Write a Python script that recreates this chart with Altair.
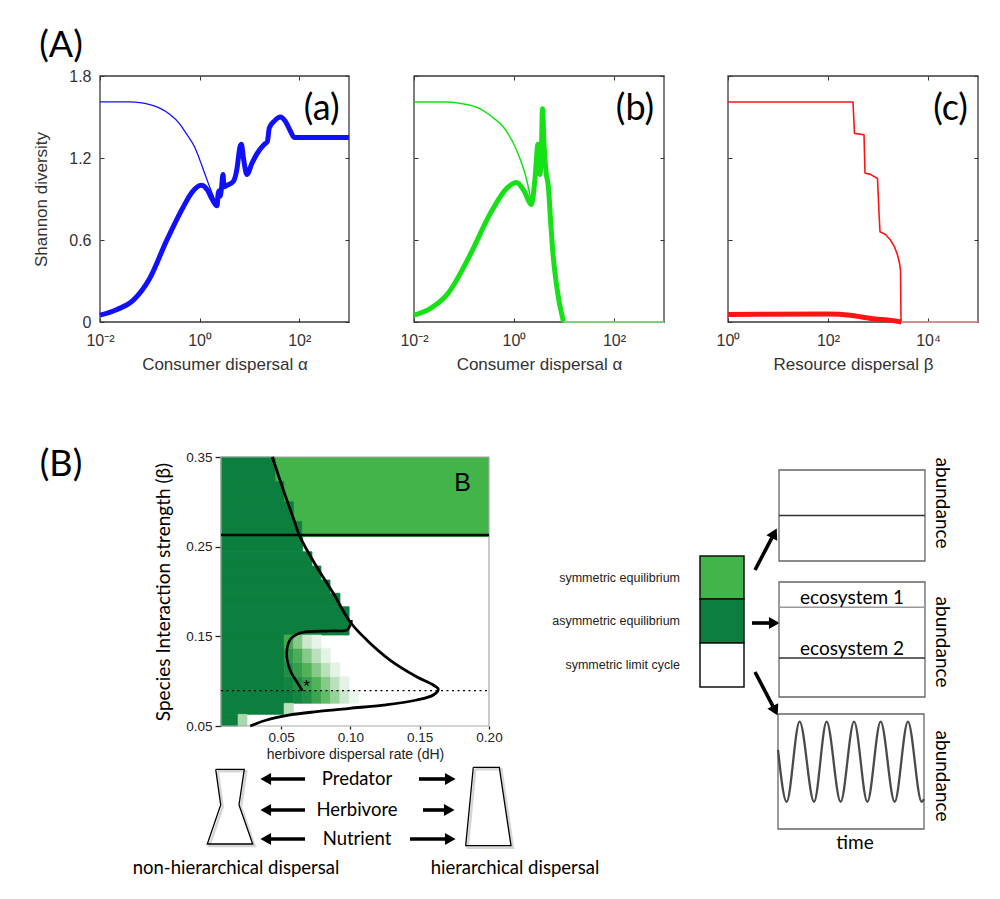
import math
import altair as alt
import pandas as pd

W, H = 984, 880
OX, OY = 8, 8
SANS = "Liberation Sans"
CAL = "Lato"


def px(v):
    return v - OX


def py(v):
    return v - OY


# ---------------- (A) data : exponent of dispersal, Shannon diversity ----------------
a_thin_e = [-2, -1.4, -1.2, -1.0, -0.8, -0.6, -0.4, -0.27, -0.1, 0.0, 0.1, 0.2, 0.3, 0.35]
a_thin_v = [1.61, 1.61, 1.605, 1.59, 1.565, 1.52, 1.45, 1.38, 1.28, 1.19, 1.09, 0.99, 0.9, 0.86]
a_thick_e = [-2, -1.67, -1.33, -1.0, -0.67, -0.33, -0.15, 0.03, 0.15, 0.25,
             0.35, 0.37, 0.39, 0.41, 0.44, 0.47, 0.49, 0.55, 0.68, 0.75,
             0.81, 0.84, 0.88, 0.95, 1.05, 1.15, 1.3, 1.36, 1.40, 1.5,
             1.62, 1.72, 1.82, 1.9, 3.0]
a_thick_v = [0.05, 0.09, 0.16, 0.32, 0.59, 0.84, 0.95, 1.0, 0.97, 0.9,
             0.85, 0.93, 0.96, 0.92, 0.98, 1.08, 0.99, 1.0, 1.03, 1.12,
             1.28, 1.3, 1.2, 1.08, 1.16, 1.23, 1.3, 1.32, 1.42, 1.47,
             1.5, 1.47, 1.4, 1.35, 1.35]

b_thin_e = [-2, -1.34, -1.0, -0.68, -0.4, -0.22, 0.06, 0.26, 0.35]
b_thin_v = [1.61, 1.61, 1.595, 1.56, 1.49, 1.43, 1.25, 1.03, 0.87]
b_thick_e = [-2, -1.67, -1.34, -0.88, -0.48, -0.14, 0.05, 0.2, 0.35, 0.42, 0.48,
             0.5, 0.52, 0.55, 0.57, 0.6, 0.64, 0.69, 0.73, 0.77, 0.85, 0.99]
b_thick_v = [0.05, 0.1, 0.2, 0.49, 0.79, 0.98, 1.02, 0.96, 0.86, 1.05, 1.3,
             1.15, 1.08, 1.3, 1.56, 1.3, 1.1, 0.98, 0.75, 0.54, 0.27, 0.0]
b_zero_e = [0.99, 3.0]
b_zero_v = [0.0, 0.0]

c_thin_e = [0, 2.5, 2.53, 2.72, 2.74, 2.85, 2.99, 3.02, 3.04, 3.15, 3.25, 3.33, 3.39, 3.43, 3.45, 3.46]
c_thin_v = [1.61, 1.61, 1.38, 1.37, 1.09, 1.08, 1.05, 0.8, 0.66, 0.64, 0.6, 0.55, 0.49, 0.43, 0.38, 0.0]
c_thick_e = [0, 2.0, 2.45, 2.7, 3.0, 3.3, 3.47]
c_thick_v = [0.055, 0.058, 0.05, 0.035, 0.02, 0.01, 0.0]
c_zero_e = [3.46, 5.0]
c_zero_v = [0.0, 0.0]

y_ticks = [0, 0.6, 1.2, 1.8]
a_ticks = [0.01, 1, 100]
a_tick_labels = ["10⁻²", "10⁰", "10²"]
c_ticks = [1, 100, 10000]
c_tick_labels = ["10⁰", "10²", "10⁴"]

# ---------------- (B) heat map data ----------------
h_xdom = [0.0067, 0.2]
h_ydom = [0.05, 0.35]
band_y = [0.2607, 0.35]
dark_y0 = [0.3225, 0.300, 0.2778, 0.2607, 0.2443, 0.2284, 0.2128, 0.198, 0.183, 0.1515, 0.063, 0.05]
dark_y1 = [0.35, 0.3225, 0.300, 0.2778, 0.2607, 0.2443, 0.2284, 0.2128, 0.198, 0.183, 0.1515, 0.063]
dark_xr = [0.0457, 0.052, 0.0589, 0.0649, 0.0656, 0.0723, 0.0788, 0.0853, 0.0925, 0.0991, 0.0522, 0.019]
fade_col_edges = [0.0522, 0.0589, 0.0656, 0.0723, 0.0790, 0.0857, 0.0924, 0.0991, 0.1058]
fade_row_edges = [0.0753, 0.0901, 0.105, 0.1206, 0.1367, 0.1515]
fade_levels = [
    [1.0, 0.95, 0.85, 0.65, 0.45, 0.3, 0.15, 0.06],
    [0.95, 0.85, 0.7, 0.5, 0.35, 0.2, 0.08],
    [0.85, 0.7, 0.5, 0.35, 0.2, 0.08],
    [0.75, 0.55, 0.35, 0.2, 0.08],
    [0.6, 0.35, 0.15, 0.07],
]
extra_x0 = [0.0522, 0.019]
extra_x1 = [0.0589, 0.0255]
extra_y0 = [0.063, 0.05]
extra_y1 = [0.0753, 0.063]
extra_lv = [0.2, 0.25]

outer_x = [0.0437, 0.0517, 0.0589, 0.0637, 0.0757, 0.0877, 0.0997, 0.1118, 0.1286, 0.1478,
           0.1598, 0.1634, 0.1598, 0.148, 0.124, 0.0997, 0.0757, 0.0565, 0.0397, 0.0277]
outer_y = [0.35, 0.313, 0.2816, 0.261, 0.2276, 0.198, 0.1663, 0.146, 0.1236, 0.105,
           0.0957, 0.091, 0.0846, 0.079, 0.0734, 0.0697, 0.066, 0.0623, 0.0567, 0.05]
inner_x = [0.101, 0.0995, 0.0975, 0.085, 0.0637, 0.0565, 0.0541, 0.0565, 0.0613, 0.0654]
inner_y = [0.168, 0.161, 0.157, 0.156, 0.1537, 0.146, 0.131, 0.1125, 0.0994, 0.0894]
hline_y = 0.263
dotted_y = 0.0894
star_xy = (0.0685, 0.094)
b_tag_xy = (0.181, 0.321)

heat_x_ticks = [0.05, 0.10, 0.15, 0.20]
heat_y_ticks = [0.05, 0.15, 0.25, 0.35]

DARK = "#0c7f3e"
LIGHT = "#43b449"
MID = "#52b257"

# ---------------- legend / schematic (page coordinates) ----------------
legend_names = ["symmetric equilibrium", "asymmetric equilibrium", "symmetric limit cycle"]
legend_colors = [LIGHT, DARK, "#ffffff"]
legend_y0 = [556, 599, 643]
legend_y1 = [599, 643, 687]
legend_x = (700, 744)
legend_label_x = 680

arr_x0 = [755, 752, 755, 305, 305, 305, 419, 423, 410]
arr_y0 = [570, 623, 672, 779, 810, 839, 779, 810, 839]
arr_x1 = [776, 778, 777, 262, 262, 262, 454, 453, 454]
arr_y1 = [530, 623, 714, 779, 810, 839, 779, 810, 839]

nonhier_x = [215.7, 244.3, 239.0, 252.7, 207.3, 220.7, 215.7]
nonhier_y = [769.3, 769.3, 805.0, 844.0, 844.0, 805.0, 769.3]
hier_x = [473.3, 499.3, 511.0, 465.7, 473.3]
hier_y = [767.3, 767.3, 845.7, 845.7, 767.3]

flow_labels = ["Predator", "Herbivore", "Nutrient"]
flow_y = [779, 810, 839]
flow_x = 357
disp_labels = ["non-hierarchical dispersal", "hierarchical dispersal"]
disp_x = [236, 515]
disp_y = 868

# abundance panels: (left, right, top, bottom) page px
abund_boxes = [(779, 925, 470, 561), (779, 925, 582, 697), (778, 924, 714, 829)]
p1_level = [0.5]
p2_levels = [0.78, 0.34]
p2_colors = ["#9a9a9a", "#333333"]
p2_texts = ["ecosystem 1", "ecosystem 2"]
sine_t = [0, 0.059, 0.148, 0.247, 0.333, 0.429, 0.521, 0.612, 0.703, 0.799, 0.890, 0.984, 1.0]
sine_v = [0.687, 0.237, 0.933, 0.237, 0.933, 0.237, 0.933, 0.237, 0.933, 0.237, 0.933, 0.237, 0.26]
abund_label_y = [503, 642, 776]
abund_label_x = 942


# ---------------- helpers ----------------
def lin(dom, rng):
    return alt.Scale(domain=dom, range=rng, nice=False, zero=False)


def logs(dom, rng):
    return alt.Scale(type="log", domain=dom, range=rng, nice=False)


def tick_expr(vals, labs):
    expr = f"'{labs[-1]}'"
    for v, lab in reversed(list(zip(vals[:-1], labs[:-1]))):
        expr = f"datum.value < {v * 3} ? '{lab}' : " + expr
    return expr


def tick_axis(orient, offset, values):
    return alt.Axis(orient=orient, offset=offset, values=values, labels=False, domain=False,
                    tickSize=4, tickColor="#333", tickWidth=1, title=None, grid=False)


layers = []


def top_panel(P, xdom, xt, xl, xtitle, show_y, series, tag, tag_xy):
    l, r, t, b = P
    xs = logs(xdom, [px(l), px(r)])
    ys = lin([0, 1.8], [py(b), py(t)])
    frame = pd.DataFrame({"x": [xdom[0]], "x2": [xdom[1]], "y": [0.0], "y2": [1.8]})
    xax = alt.Axis(orient="bottom", offset=py(b) - H, values=xt, labelExpr=tick_expr(xt, xl),
                   tickSize=0, domain=False, labelFont=SANS, labelFontSize=16, labelColor="#333",
                   labelPadding=10, labelFlush=False, labelOverlap=False, title=xtitle,
                   titleFont=SANS, titleFontSize=17, titleFontWeight="normal", titleColor="#333",
                   titlePadding=8, grid=False)
    if show_y:
        yax = alt.Axis(orient="left", offset=-px(l), values=y_ticks,
                       labelExpr="datum.value == 0 ? '0' : format(datum.value, '.1f')",
                       tickSize=0, domain=False, labelFont=SANS, labelFontSize=16, labelColor="#333",
                       labelPadding=9, labelFlush=False, labelOverlap=False,
                       title="Shannon diversity", titleFont=SANS, titleFontSize=17,
                       titleFontWeight="normal", titleColor="#333", titlePadding=18, grid=False)
        layers.append(alt.Chart(frame).mark_rect(fillOpacity=0, stroke="#3a3a3a", strokeWidth=1.3).encode(
            x=alt.X("x:Q", scale=xs, axis=xax), x2="x2:Q",
            y=alt.Y("y:Q", scale=ys, axis=yax), y2="y2:Q"))
    else:
        layers.append(alt.Chart(frame).mark_rect(fillOpacity=0, stroke="#3a3a3a", strokeWidth=1.3).encode(
            x=alt.X("x:Q", scale=xs, axis=xax), x2="x2:Q",
            y=alt.Y("y:Q", scale=ys, axis=None), y2="y2:Q"))
    axes_pairs = [
        (tick_axis("top", -py(b), xt), tick_axis("right", px(l) - W, y_ticks)),
        (tick_axis("bottom", py(t) - H, xt), tick_axis("left", -px(r), y_ticks)),
    ]
    for k, (es, vs, color, width, opacity, interp) in enumerate(series):
        df = pd.DataFrame({"x": [10 ** e for e in es], "y": vs})
        if k < 2:
            ax, ay = axes_pairs[k]
            enc_x = alt.X("x:Q", scale=xs, axis=ax)
            enc_y = alt.Y("y:Q", scale=ys, axis=ay)
        else:
            enc_x = alt.X("x:Q", scale=xs, axis=None)
            enc_y = alt.Y("y:Q", scale=ys, axis=None)
        layers.append(alt.Chart(df).mark_line(color=color, strokeWidth=width, opacity=opacity,
                                              interpolate=interp, strokeJoin="round").encode(x=enc_x, y=enc_y))
    tdf = pd.DataFrame({"x": [10 ** tag_xy[0]], "y": [tag_xy[1]], "t": [tag]})
    layers.append(alt.Chart(tdf).mark_text(font=CAL, fontSize=36, align="center", baseline="middle",
                                           color="black").encode(
        x=alt.X("x:Q", scale=xs, axis=None), y=alt.Y("y:Q", scale=ys, axis=None), text="t:N"))


BLUE, GREEN, RED = "#1010ff", "#16e016", "#ff1414"
top_panel((100, 349, 76, 322), [0.01, 1000], a_ticks, a_tick_labels, "Consumer dispersal α", True,
          [(a_thin_e, a_thin_v, BLUE, 1.3, 1, "monotone"),
           (a_thick_e, a_thick_v, BLUE, 5, 1, "monotone")],
          "(a)", (2.45, 1.56))
top_panel((414, 664, 76, 322), [0.01, 1000], a_ticks, a_tick_labels, "Consumer dispersal α", False,
          [(b_thin_e, b_thin_v, GREEN, 1.5, 1, "monotone"),
           (b_thick_e, b_thick_v, GREEN, 5, 1, "monotone"),
           (b_zero_e, b_zero_v, "#8cf08c", 1.6, 1, "linear")],
          "(b)", (2.42, 1.56))
top_panel((728, 978, 76, 322), [1, 100000], c_ticks, c_tick_labels, "Resource dispersal β", False,
          [(c_thin_e, c_thin_v, RED, 1.6, 1, "linear"),
           (c_thick_e, c_thick_v, RED, 5, 1, "monotone"),
           (c_zero_e, c_zero_v, "#ff9a9a", 1.6, 1, "linear")],
          "(c)", (4.45, 1.56))

# ---------------- heat map ----------------
hx = lin(h_xdom, [px(221), px(489)])
hy = lin(h_ydom, [py(726), py(457)])


def HX(f="x"):
    return alt.X(f"{f}:Q", scale=hx, axis=None)


def HY(f="y"):
    return alt.Y(f"{f}:Q", scale=hy, axis=None)


band = pd.DataFrame({"x": [h_xdom[0]], "x2": [h_xdom[1]], "y": [band_y[0]], "y2": [band_y[1]]})
layers.append(alt.Chart(band).mark_rect(color=LIGHT).encode(x=HX(), x2="x2:Q", y=HY(), y2="y2:Q"))

dark = pd.DataFrame({"x": [h_xdom[0]] * len(dark_xr), "x2": dark_xr, "y": dark_y0, "y2": dark_y1})
layers.append(alt.Chart(dark).mark_rect(color=DARK, stroke=DARK, strokeWidth=0.8).encode(
    x=HX(), x2="x2:Q", y=HY(), y2="y2:Q"))

cells = []
for ri, row in enumerate(fade_levels):
    for ci, lv in enumerate(row):
        cells.append({"x": fade_col_edges[ci], "x2": fade_col_edges[ci + 1],
                      "y": fade_row_edges[ri], "y2": fade_row_edges[ri + 1], "lv": lv})
for a0, a1, b0, b1, lv in zip(extra_x0, extra_x1, extra_y0, extra_y1, extra_lv):
    cells.append({"x": a0, "x2": a1, "y": b0, "y2": b1, "lv": lv})
cells = pd.DataFrame(cells)
fade_scale = alt.Scale(domain=[0, 0.5, 1], range=["#ffffff", MID, DARK], interpolate="rgb")
layers.append(alt.Chart(cells).mark_rect(strokeWidth=0.6).encode(
    x=HX(), x2="x2:Q", y=HY(), y2="y2:Q",
    color=alt.Color("lv:Q", scale=fade_scale, legend=None),
    stroke=alt.Stroke("lv:Q", scale=fade_scale, legend=None)))

hframe = pd.DataFrame({"x": [h_xdom[0]], "x2": [h_xdom[1]], "y": [h_ydom[0]], "y2": [h_ydom[1]]})
layers.append(alt.Chart(hframe).mark_rect(fillOpacity=0, stroke="#a8a8a8", strokeWidth=1.2).encode(
    x=alt.X("x:Q", scale=hx, axis=alt.Axis(
        orient="bottom", offset=py(726) - H, values=heat_x_ticks, format=".2f", tickSize=3,
        tickColor="#222", tickWidth=1.3, domain=False, labelFont=SANS, labelFontSize=13.5,
        labelColor="#222", labelPadding=1, labelFlush=False, labelOverlap=False,
        title="herbivore dispersal rate (dH)", titleFont=SANS, titleFontSize=14,
        titleFontWeight="normal", titleColor="#222", titlePadding=4, grid=False)),
    x2="x2:Q",
    y=alt.Y("y:Q", scale=hy, axis=alt.Axis(
        orient="left", offset=-px(221), values=heat_y_ticks, format=".2f", tickSize=6,
        tickColor="#222", tickWidth=1.3, domain=False, labelFont=SANS, labelFontSize=13.5,
        labelColor="#222", labelPadding=3, labelFlush=False, labelOverlap=False,
        title="Species Interaction strength (β)", titleFont=CAL, titleFontSize=19,
        titleFontWeight="normal", titleColor="black", titlePadding=12, grid=False)),
    y2="y2:Q"))

outer = pd.DataFrame({"x": outer_x, "y": outer_y, "i": list(range(len(outer_x)))})
layers.append(alt.Chart(outer).mark_line(color="black", strokeWidth=2.8, interpolate="catmull-rom").encode(
    x=HX(), y=HY(), order="i:Q"))
inner = pd.DataFrame({"x": inner_x, "y": inner_y, "i": list(range(len(inner_x)))})
layers.append(alt.Chart(inner).mark_line(color="black", strokeWidth=2.6, interpolate="catmull-rom").encode(
    x=HX(), y=HY(), order="i:Q"))

hl = pd.DataFrame({"x": [h_xdom[0]], "x2": [h_xdom[1]], "y": [hline_y]})
layers.append(alt.Chart(hl).mark_rule(color="black", strokeWidth=2.6).encode(x=HX(), x2="x2:Q", y=HY()))
dl = pd.DataFrame({"x": [h_xdom[0]], "x2": [h_xdom[1]], "y": [dotted_y]})
layers.append(alt.Chart(dl).mark_rule(color="black", strokeWidth=1.4, strokeDash=[2, 3.5]).encode(
    x=HX(), x2="x2:Q", y=HY()))

heat_txt = pd.DataFrame({"x": [star_xy[0], b_tag_xy[0]], "y": [star_xy[1], b_tag_xy[1]],
                         "t": ["*", "B"], "s": [17, 25]})
layers.append(alt.Chart(heat_txt).mark_text(font=SANS, align="center", baseline="middle", color="black").encode(
    x=HX(), y=HY(), text="t:N", size=alt.Size("s:Q", scale=None)))

# ---------------- schematic (page-coordinate scale) ----------------
dxs = lin([OX, OX + W], [0, W])
dys = lin([OY, OY + H], [0, H])


def DX(f="x"):
    return alt.X(f"{f}:Q", scale=dxs, axis=None)


def DY(f="y"):
    return alt.Y(f"{f}:Q", scale=dys, axis=None)


leg = pd.DataFrame({"x": [legend_x[0]] * 3, "x2": [legend_x[1]] * 3, "y": legend_y0, "y2": legend_y1,
                    "c": legend_colors})
layers.append(alt.Chart(leg).mark_rect(stroke="#111", strokeWidth=1.5).encode(
    x=DX(), x2="x2:Q", y=DY(), y2="y2:Q", color=alt.Color("c:N", scale=None)))
legt = pd.DataFrame({"x": [legend_label_x] * 3,
                     "y": [(a + b) / 2 for a, b in zip(legend_y0, legend_y1)], "t": legend_names})
layers.append(alt.Chart(legt).mark_text(font=SANS, fontSize=12.5, align="right", baseline="middle",
                                        color="#222").encode(x=DX(), y=DY(), text="t:N"))

seg_rows, head_rows = [], []
for a, b, c, d in zip(arr_x0, arr_y0, arr_x1, arr_y1):
    L = math.hypot(c - a, d - b)
    ux, uy = (c - a) / L, (d - b) / L
    hxp, hyp = c - 5.5 * ux, d - 5.5 * uy
    seg_rows.append({"x": a, "y": b, "x2": hxp, "y2": hyp})
    head_rows.append({"x": hxp, "y": hyp, "a": math.degrees(math.atan2(ux, -uy)) % 360})
layers.append(alt.Chart(pd.DataFrame(seg_rows)).mark_rule(color="black", strokeWidth=3.6).encode(
    x=DX(), y=DY(), x2="x2:Q", y2="y2:Q"))
layers.append(alt.Chart(pd.DataFrame(head_rows)).mark_point(shape="triangle", filled=True, size=150,
                                                             color="black", opacity=1).encode(
    x=DX(), y=DY(), angle=alt.Angle("a:Q", scale=None)))

for sx, sy in [(nonhier_x, nonhier_y), (hier_x, hier_y)]:
    sh = pd.DataFrame({"x": [v + 2 for v in sx], "y": [v + 2 for v in sy], "i": list(range(len(sx)))})
    layers.append(alt.Chart(sh).mark_line(color="#bbbbbb", strokeWidth=2.5, opacity=0.6).encode(
        x=DX(), y=DY(), order="i:Q"))
    sh2 = pd.DataFrame({"x": sx, "y": sy, "i": list(range(len(sx)))})
    layers.append(alt.Chart(sh2).mark_line(color="black", strokeWidth=1.3).encode(
        x=DX(), y=DY(), order="i:Q"))

fl = pd.DataFrame({"x": [flow_x] * 3, "y": flow_y, "t": flow_labels})
layers.append(alt.Chart(fl).mark_text(font=CAL, fontSize=18.5, align="center", baseline="middle",
                                      color="black").encode(x=DX(), y=DY(), text="t:N"))
dp = pd.DataFrame({"x": disp_x, "y": [disp_y] * 2, "t": disp_labels})
layers.append(alt.Chart(dp).mark_text(font=CAL, fontSize=18.5, align="center", baseline="middle",
                                      color="black").encode(x=DX(), y=DY(), text="t:N"))

# ---------------- abundance panels ----------------
for k, (l, r, t, b) in enumerate(abund_boxes):
    ts = lin([0, 1], [px(l), px(r)])
    vs = lin([0, 1], [py(b), py(t)])
    fr = pd.DataFrame({"x": [0], "x2": [1], "y": [0], "y2": [1]})
    layers.append(alt.Chart(fr).mark_rect(fillOpacity=0, stroke="#666", strokeWidth=1.3).encode(
        x=alt.X("x:Q", scale=ts, axis=None), x2="x2:Q",
        y=alt.Y("y:Q", scale=vs, axis=None), y2="y2:Q"))
    if k == 0:
        d0 = pd.DataFrame({"x": [0], "x2": [1], "y": p1_level})
        layers.append(alt.Chart(d0).mark_rule(color="#333", strokeWidth=1.5).encode(
            x=alt.X("x:Q", scale=ts, axis=None), x2="x2:Q", y=alt.Y("y:Q", scale=vs, axis=None)))
    elif k == 1:
        d1 = pd.DataFrame({"x": [0, 0], "x2": [1, 1], "y": p2_levels, "c": p2_colors,
                           "tx": [0.5, 0.5], "t": p2_texts})
        layers.append(alt.Chart(d1).mark_rule(strokeWidth=1.5).encode(
            x=alt.X("x:Q", scale=ts, axis=None), x2="x2:Q", y=alt.Y("y:Q", scale=vs, axis=None),
            color=alt.Color("c:N", scale=None)))
        layers.append(alt.Chart(d1).mark_text(font=CAL, fontSize=19, align="center", baseline="alphabetic",
                                              dy=-3, color="black").encode(
            x=alt.X("tx:Q", scale=ts, axis=None), y=alt.Y("y:Q", scale=vs, axis=None), text="t:N"))
    else:
        d2 = pd.DataFrame({"x": sine_t, "y": sine_v})
        layers.append(alt.Chart(d2).mark_line(color="#4a4a4a", strokeWidth=2.3, interpolate="monotone").encode(
            x=alt.X("x:Q", scale=ts, axis=None), y=alt.Y("y:Q", scale=vs, axis=None)))

ab = pd.DataFrame({"x": [abund_label_x] * 3, "y": abund_label_y, "t": ["abundance"] * 3})
layers.append(alt.Chart(ab).mark_text(font=CAL, fontSize=19, angle=90, align="center", baseline="middle",
                                      color="black").encode(x=DX(), y=DY(), text="t:N"))
tm = pd.DataFrame({"x": [855], "y": [843], "t": ["time"]})
layers.append(alt.Chart(tm).mark_text(font=CAL, fontSize=19, align="center", baseline="middle",
                                      color="black").encode(x=DX(), y=DY(), text="t:N"))

# ---------------- section labels ----------------
sec = pd.DataFrame({"x": [61, 61], "y": [46, 465], "t": ["(A)", "(B)"]})
layers.append(alt.Chart(sec).mark_text(font=CAL, fontSize=36, align="center", baseline="middle",
                                       color="black").encode(x=DX(), y=DY(), text="t:N"))

chart = alt.layer(*layers).resolve_scale(
    x="independent", y="independent", color="independent", stroke="independent",
    size="independent", angle="independent"
).resolve_axis(x="independent", y="independent").properties(
    width=W, height=H, padding=0, autosize=alt.AutoSizeParams(type="none")
).configure_view(strokeWidth=0).configure_axis(grid=False)

chart.save("out.html", embed_options={"renderer": "svg", "actions": False})
